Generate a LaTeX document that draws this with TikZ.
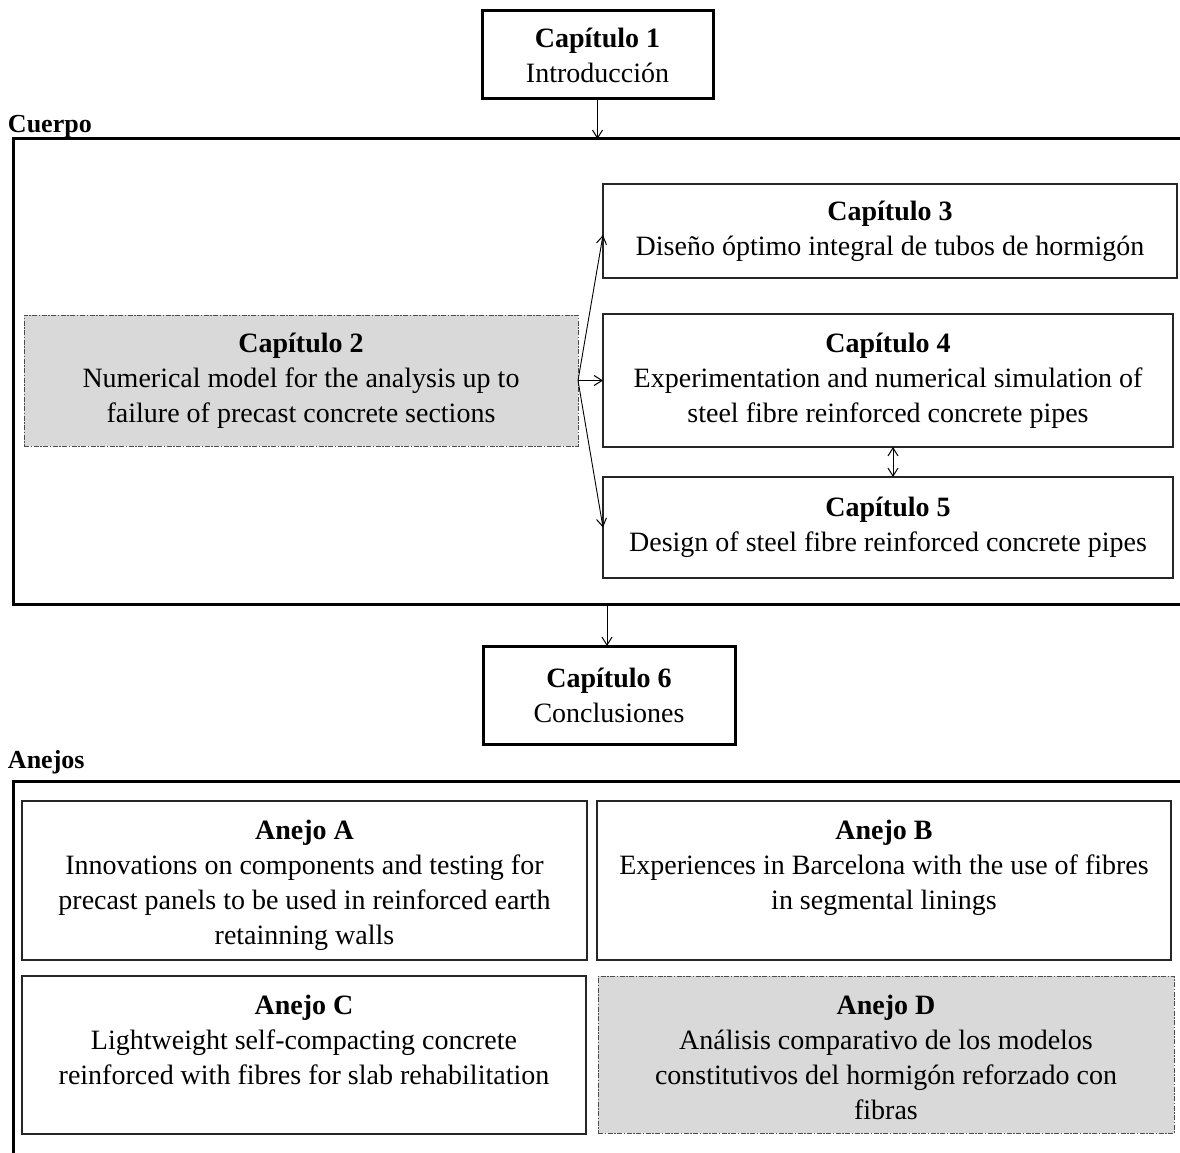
\documentclass[tikz,border=0pt]{standalone}
\usepackage{fontspec}
\setmainfont{Liberation Serif}
\usetikzlibrary{arrows.meta}
\definecolor{boxgray}{HTML}{D9D9D9}
\begin{document}
\begin{tikzpicture}[x=1pt,y=-1pt,
  every node/.style={font=\fontsize{28}{35}\selectfont, inner sep=0pt, outer sep=0pt},
  frame/.style={draw=black, line width=3pt, anchor=north west},
  chapbox/.style={draw=black, line width=3pt, align=center, anchor=north west},
  inbox/.style={draw=black!85, line width=1.4pt, align=center, anchor=north west},
  graybox/.style={draw=black!70, fill=boxgray, line width=0.9pt,
    dash pattern=on 5pt off 1.5pt on 1.5pt off 1.5pt, align=center, anchor=north west},
  boxtext/.style={align=center, anchor=north},
  arr/.style={line width=0.9pt, -{Straight Barb[length=8pt,width=10pt,line width=1pt]}},
  darr/.style={line width=0.9pt, {Straight Barb[length=8pt,width=10pt,line width=1pt]}-{Straight Barb[length=8pt,width=10pt,line width=1pt]}},
  lbl/.style={font=\fontsize{26}{30}\selectfont\bfseries, anchor=base west}]
\useasboundingbox (0,0) rectangle (1180,1153);

% outer frames
\node[frame, minimum width=1190, minimum height=465] (cuerpo) at (13,139) {};
\node[frame, minimum width=1190, minimum height=400] (anejos) at (13,781) {};
\node[lbl] (lcuerpo) at (8,132) {Cuerpo};
\node[lbl] (lanejos) at (8,768) {Anejos};

% chapters
\node[chapbox, minimum width=231, minimum height=88] (c1) at (482,11)
  {\textbf{Capítulo 1}\\Introducción};
\node[graybox, minimum width=554, minimum height=131] (c2) at (24,315)
  {\textbf{Capítulo 2}\\Numerical model for the analysis up to\\failure of precast concrete sections};
\node[inbox, minimum width=574, minimum height=94] (c3) at (603,184)
  {\textbf{Capítulo 3}\\Diseño óptimo integral de tubos de hormigón};
\node[inbox, minimum width=570, minimum height=133] (c4) at (603,314)
  {\textbf{Capítulo 4}\\Experimentation and numerical simulation of\\steel fibre reinforced concrete pipes};
\node[inbox, minimum width=570, minimum height=101] (c5) at (603,477)
  {\textbf{Capítulo 5}\\Design of steel fibre reinforced concrete pipes};
\node[chapbox, minimum width=252, minimum height=98] (c6) at (483,646)
  {\textbf{Capítulo 6}\\Conclusiones};

% annexes
\node[inbox, minimum width=565, minimum height=159] (aA) at (22,801) {};
\node[inbox, minimum width=574, minimum height=159] (aB) at (597,801) {};
\node[inbox, minimum width=564, minimum height=158] (aC) at (22,976) {};
\node[graybox, minimum width=576, minimum height=157] (aD) at (598,976) {};

\node[boxtext] (tA) at ([yshift=-19pt]aA.north)
  {\textbf{Anejo A}\\Innovations on components and testing for\\precast panels to be used in reinforced earth\\retainning walls};
\node[boxtext] (tB) at ([yshift=-19pt]aB.north)
  {\textbf{Anejo B}\\Experiences in Barcelona with the use of fibres\\in segmental linings};
\node[boxtext] (tC) at ([yshift=-19pt]aC.north)
  {\textbf{Anejo C}\\Lightweight self-compacting concrete\\reinforced with fibres for slab rehabilitation};
\node[boxtext] (tD) at ([yshift=-19pt]aD.north)
  {\textbf{Anejo D}\\Análisis comparativo de los modelos\\constitutivos del hormigón reforzado con\\fibras};

% connectors
\draw[arr] (c1.south) -- (c1.south |- cuerpo.north);
\draw[arr] (c2.east) -- ([yshift=-4pt]c3.west);
\draw[arr] (c2.east) -- (c4.west);
\draw[arr] (c2.east) -- (c5.west);
\draw[darr] ([xshift=5pt]c4.south) -- ([xshift=5pt]c4.south |- c5.north);
\draw[arr] ([xshift=-2pt]c6.north |- cuerpo.south) -- ([xshift=-2pt]c6.north);
\end{tikzpicture}
\end{document}
